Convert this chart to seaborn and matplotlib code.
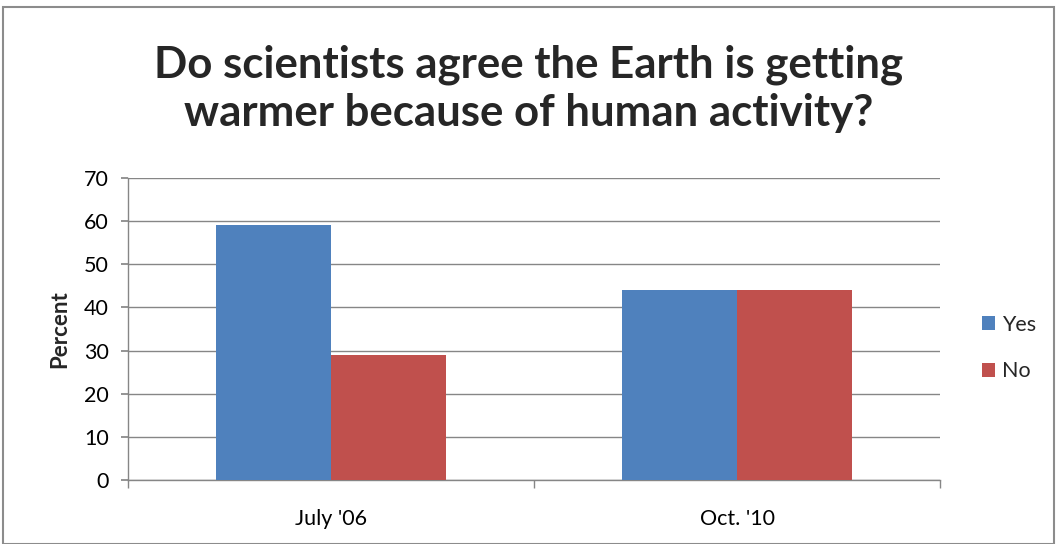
import matplotlib
matplotlib.use("Agg")
import matplotlib.pyplot as plt
import seaborn as sns
import pandas as pd
from matplotlib.patches import Rectangle, Patch

periods = ["July '06", "Oct. '10"]
yes_values = [59, 44]
no_values = [29, 44]
series_names = ["Yes", "No"]

df = pd.DataFrame({
    "Period": periods * 2,
    "Answer": [series_names[0]] * len(periods) + [series_names[1]] * len(periods),
    "Percent": yes_values + no_values,
})

sns.set_theme(style="white")
plt.rcParams["font.family"] = ["Lato", "DejaVu Sans"]

fig = plt.figure(figsize=(10.57, 5.44), dpi=100)
ax = fig.add_axes([128 / 1057, 1 - 480 / 544, (940 - 128) / 1057, (480 - 178) / 544])

palette = {"Yes": "#4F81BD", "No": "#C0504D"}
sns.barplot(data=df, x="Period", y="Percent", hue="Answer", palette=palette,
            width=0.567, saturation=1, ax=ax, legend=False, zorder=3,
            linewidth=0, edgecolor="none")

grid_c = "#868686"
ax.set_xlim(-0.5, 1.5)
ax.set_ylim(0, 70)
ax.set_yticks(range(0, 71, 10))
ax.yaxis.grid(True, color=grid_c, linewidth=1, zorder=0)
ax.set_axisbelow(True)
for s in ["top", "right"]:
    ax.spines[s].set_visible(False)
for s in ["left", "bottom"]:
    ax.spines[s].set_color(grid_c)
    ax.spines[s].set_linewidth(1)

ax.tick_params(axis="y", which="major", left=True, length=5, color=grid_c,
               labelsize=15.5, pad=9, labelcolor="black")
ax.tick_params(axis="x", which="major", bottom=False, labelsize=15.5, pad=15,
               labelcolor="black")
ax.set_xticks([-0.5, 0.5, 1.5], minor=True)
ax.tick_params(axis="x", which="minor", bottom=True, length=6, color=grid_c)

ax.set_xlabel("")
ax.set_ylabel("Percent", fontsize=16, fontweight="bold", labelpad=10)

fig.text(0.5, 1 - 89 / 544, "Do scientists agree the Earth is getting\nwarmer because of human activity?",
         ha="center", va="center", fontsize=31.5, fontweight="bold", linespacing=1.24)

handles = [Patch(facecolor=palette[n], edgecolor="none") for n in series_names]
fig.legend(handles, series_names, loc="center left", bbox_to_anchor=(0.929, 1 - 348 / 544),
           frameon=False, fontsize=15.5, handlelength=0.62, handleheight=0.62,
           handletextpad=0.3, labelspacing=1.25, borderpad=0, borderaxespad=0)

fig.patches.append(Rectangle((3 / 1057, 0.0), 1 - 6 / 1057, 1 - 7 / 544,
                             transform=fig.transFigure, fill=False,
                             edgecolor="#8c8c8c", linewidth=1.5))

fig.savefig("out.png", dpi=100, facecolor="white")
